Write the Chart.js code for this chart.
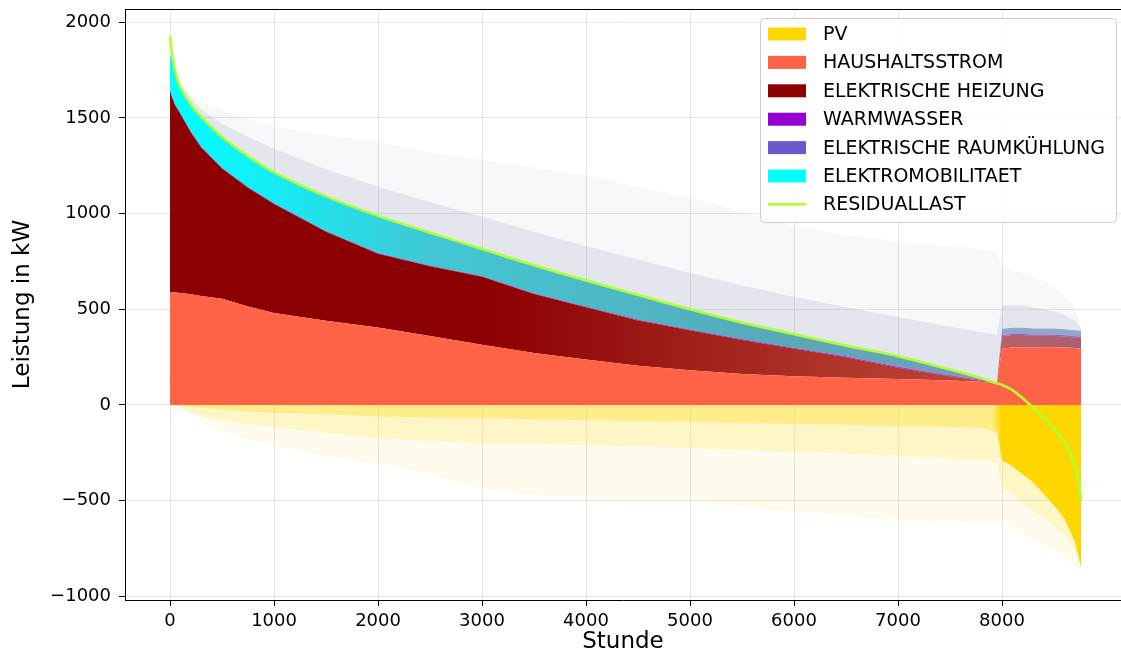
<!DOCTYPE html>
<html lang="de">
<head>
    <meta charset="UTF-8">
    <title>Residuallast</title>
    <script src="https://cdn.jsdelivr.net/npm/chart.js@4.4.1/dist/chart.umd.min.js"></script>
    <style>
        html, body { margin: 0; padding: 0; background: #fff; }
        #wrap { width: 1121px; height: 664px; }
    </style>
</head>
<body>
<div id="wrap"><canvas id="myChart" width="1121" height="664"></canvas></div>
<script>
const hours = [0, 20, 50, 100, 200, 300, 500, 750, 1000, 1500, 2000, 2500, 3000, 3500, 4000, 4500,
    5000, 5500, 6000, 6500, 7000, 7500, 7800, 7950, 8000, 8100, 8200, 8300, 8400, 8500, 8600, 8700, 8760];

// Komponenten in kW
const pv = [0, 0, -2, -5, -10, -15, -25, -35, -40, -50, -60, -65, -70, -75, -80, -85,
    -90, -95, -100, -105, -110, -115, -120, -140, -290, -320, -365, -405, -465, -525, -595, -715, -850];
const haushalt = [590, 590, 588, 585, 578, 570, 555, 515, 480, 440, 405, 360, 315, 272, 238, 205,
    182, 162, 150, 142, 136, 128, 122, 112, 295, 300, 300, 300, 302, 302, 300, 298, 295];
const heizung = [1050, 1015, 977, 935, 847, 775, 680, 620, 570, 465, 385, 365, 355, 308, 272, 237,
    208, 178, 145, 108, 59, 22, 5, 1, 65, 65, 65, 62, 60, 60, 58, 55, 55];
const warmwasser = [3, 3, 3, 3, 3, 3, 3, 3, 3, 3, 3, 3, 3, 3, 3, 3,
    3, 3, 3, 3, 3, 3, 2, 2, 2, 2, 2, 2, 2, 2, 2, 2, 2];
const kuehlung = [0, 0, 0, 0, 0, 0, 0, 0, 0, 0, 0, 0, 0, 0, 0, 0,
    0, 0, 1, 2, 3, 4, 3, 0, 4, 4, 4, 4, 4, 4, 4, 4, 4];
const emob = [187, 192, 172, 137, 142, 157, 162, 162, 162, 182, 195, 172, 142, 147, 137, 130,
    107, 87, 72, 55, 57, 28, 10, 3, 32, 32, 32, 32, 32, 32, 32, 32, 32];

// Streuung der Einzelstunden (blasse Spitzen ueber / unter den Flaechen)
const streuOben1 = [1830, 1800, 1745, 1680, 1600, 1545, 1470, 1400, 1340, 1230, 1140, 1060, 985, 905, 830, 760,
    690, 625, 565, 510, 460, 410, 380, 370, 520, 520, 520, 510, 500, 490, 470, 440, 400];
const streuOben2 = [1830, 1800, 1750, 1690, 1625, 1585, 1540, 1495, 1455, 1410, 1375, 1320, 1280, 1240, 1200, 1140,
    1085, 1010, 935, 890, 855, 830, 815, 800, 720, 705, 690, 670, 650, 620, 570, 510, 420];
const streuPv1 = [0, 0, -5, -10, -35, -60, -80, -100, -115, -145, -175, -190, -200, -205, -210, -215,
    -225, -235, -245, -255, -265, -280, -290, -300, -430, -470, -520, -555, -590, -635, -680, -760, -820];
const streuPv2 = [0, 0, -10, -20, -55, -90, -140, -180, -215, -270, -310, -360, -440, -470, -485, -495,
    -505, -535, -560, -580, -600, -610, -620, -620, -600, -640, -680, -705, -730, -760, -790, -840, -870];

// Residuallast
const resHours = [0, 20, 50, 100, 200, 300, 500, 750, 1000, 1500, 2000, 2500, 3000, 3500, 4000, 4500,
    5000, 5500, 6000, 6500, 7000, 7500, 7800, 7950, 8000, 8100, 8200, 8270, 8400, 8500, 8600, 8650, 8700, 8730, 8760];
const residual = [1930, 1830, 1740, 1660, 1570, 1505, 1400, 1300, 1215, 1090, 988, 900, 815, 730, 650, 575,
    500, 430, 370, 310, 255, 185, 140, 113, 105, 78, 35, 0, -65, -125, -195, -245, -315, -380, -500];

const xTicks = [0, 1000, 2000, 3000, 4000, 5000, 6000, 7000, 8000];
const yTicks = [-1000, -500, 0, 500, 1000, 1500, 2000];

const pts = (xs, ys) => xs.map((x, i) => ({x: x, y: ys[i]}));

// horizontaler Farbverlauf entlang der Stundenachse
function hGrad(chart, stops) {
    const {ctx, chartArea, scales} = chart;
    if (!chartArea || !scales.x) return stops[0][1];
    const x0 = scales.x.getPixelForValue(stops[0][0]);
    const x1 = scales.x.getPixelForValue(stops[stops.length - 1][0]);
    const g = ctx.createLinearGradient(x0, 0, x1, 0);
    stops.forEach(s => g.addColorStop((scales.x.getPixelForValue(s[0]) - x0) / (x1 - x0), s[1]));
    return g;
}

function area(label, data, color, fill, stack, legendColor) {
    return {
        label: label, data: data, fill: fill, stack: stack, order: 1,
        backgroundColor: color, borderColor: 'rgba(0,0,0,0)', borderWidth: 0,
        pointRadius: 0, tension: 0, legendColor: legendColor
    };
}

const datasets = [
    area('PV', pts(hours, pv), c => hGrad(c.chart, [[7900, 'rgba(255,215,0,0.45)'], [8000, '#FFD700']]), 'origin', 'pv', '#FFD700'),
    area('HAUSHALTSSTROM', pts(hours, haushalt), '#FF6347', 'origin', 'last', '#FF6347'),
    area('ELEKTRISCHE HEIZUNG', pts(hours, heizung),
        c => hGrad(c.chart, [[0, '#8B0000'], [3000, '#8B0000'], [6500, '#B0362C'], [7950, '#C04A3A'], [8000, '#B8606A'], [8760, '#A86070']]),
        '-1', 'last', '#8B0000'),
    area('WARMWASSER', pts(hours, warmwasser), '#9400D3', '-1', 'last', '#9400D3'),
    area('ELEKTRISCHE RAUMKÜHLUNG', pts(hours, kuehlung), '#6A5ACD', '-1', 'last', '#6A5ACD'),
    area('ELEKTROMOBILITAET', pts(hours, emob),
        c => hGrad(c.chart, [[0, '#00FFFF'], [800, '#10F0F8'], [2500, '#40C8D4'], [6000, '#5AA8B8'], [7950, '#7A9CC0'], [8000, '#90A8C8'], [8760, '#90A8C8']]),
        '-1', 'last', '#00FFFF'),
    {
        label: 'RESIDUALLAST', data: pts(resHours, residual), stack: 'res', order: 0, fill: false,
        borderColor: '#ADFF2F', borderWidth: 2.6, pointRadius: 0, tension: 0.2, legendColor: '#ADFF2F'
    },
    area('streu1', pts(hours, streuOben1), 'rgba(70,85,130,0.15)', 5, 's1'),
    area('streu2', pts(hours, streuOben2), 'rgba(70,85,130,0.045)', 7, 's2'),
    area('streu3', pts(hours, streuPv1), 'rgba(255,215,0,0.22)', 0, 's3'),
    area('streu4', pts(hours, streuPv2), 'rgba(255,215,0,0.07)', 9, 's4')
];
datasets.slice(7).forEach(d => { d.order = 2; });

const font = '"DejaVu Sans", sans-serif';
Chart.defaults.font.family = font;
Chart.defaults.color = '#000';

// oberer Rahmen
const frame = {
    id: 'frame',
    afterDraw(chart) {
        const c = chart.ctx, a = chart.chartArea;
        c.save();
        c.strokeStyle = '#000';
        c.lineWidth = 1;
        c.beginPath();
        c.moveTo(a.left, Math.round(a.top) + 0.5);
        c.lineTo(chart.width, Math.round(a.top) + 0.5);
        c.stroke();
        c.restore();
    }
};

// Legende im Diagramm oben rechts
const boxLegend = {
    id: 'boxLegend',
    afterDraw(chart) {
        const c = chart.ctx;
        const x = 760.5, y = 18.5, w = 356, h = 204, r = 4;
        c.save();
        c.beginPath();
        c.moveTo(x + r, y);
        c.arcTo(x + w, y, x + w, y + h, r);
        c.arcTo(x + w, y + h, x, y + h, r);
        c.arcTo(x, y + h, x, y, r);
        c.arcTo(x, y, x + w, y, r);
        c.closePath();
        c.fillStyle = 'rgba(255,255,255,0.8)';
        c.fill();
        c.strokeStyle = '#cccccc';
        c.lineWidth = 1;
        c.stroke();
        c.font = '19px ' + font;
        c.textBaseline = 'middle';
        chart.data.datasets.slice(0, 7).forEach((d, i) => {
            const cy = 34 + i * 28.4;
            if (d.label === 'RESIDUALLAST') {
                c.strokeStyle = d.legendColor;
                c.lineWidth = 2.6;
                c.beginPath();
                c.moveTo(768, cy);
                c.lineTo(806, cy);
                c.stroke();
            } else {
                c.fillStyle = d.legendColor;
                c.fillRect(768, cy - 6.5, 38, 13);
            }
            c.fillStyle = '#000';
            c.fillText(d.label, 823, cy + 1);
        });
        c.restore();
    }
};

const ctx = document.getElementById('myChart').getContext('2d');
const myChart = new Chart(ctx, {
    type: 'line',
    data: { datasets: datasets },
    options: {
        responsive: false,
        animation: false,
        devicePixelRatio: 1,
        events: [],
        layout: { padding: { top: 9, right: 0, bottom: 0, left: 0 } },
        plugins: {
            legend: { display: false },
            tooltip: { enabled: false },
            filler: { propagate: false }
        },
        scales: {
            x: {
                type: 'linear',
                min: -433,
                max: 9144,
                z: 1,
                afterBuildTicks: s => { s.ticks = xTicks.map(v => ({value: v})); },
                afterFit: s => { s.height = 64; s.paddingLeft = 0; s.paddingRight = 0; },
                ticks: { font: { size: 18 }, padding: 5, maxRotation: 0, color: '#000', callback: v => String(v) },
                grid: { color: 'rgba(176,176,176,0.3)', tickColor: '#000', tickLength: 6 },
                border: { display: true, color: '#000', width: 1 },
                title: { display: true, text: 'Stunde', font: { size: 23 }, padding: { top: 0, bottom: 8 } }
            },
            y: {
                type: 'linear',
                stacked: true,
                min: -1019,
                max: 2069,
                z: 1,
                afterBuildTicks: s => { s.ticks = yTicks.map(v => ({value: v})); },
                afterFit: s => { s.width = 125; s.paddingTop = 0; s.paddingBottom = 0; },
                ticks: {
                    font: { size: 18 }, padding: 8, color: '#000',
                    callback: v => v < 0 ? '\u2212' + Math.abs(v) : String(v)
                },
                grid: { color: 'rgba(176,176,176,0.3)', tickColor: '#000', tickLength: 6 },
                border: { display: true, color: '#000', width: 1 },
                title: { display: true, text: 'Leistung in kW', font: { size: 23 }, padding: { top: 9, bottom: 0 } }
            }
        }
    },
    plugins: [frame, boxLegend]
});
</script>
</body>
</html>
